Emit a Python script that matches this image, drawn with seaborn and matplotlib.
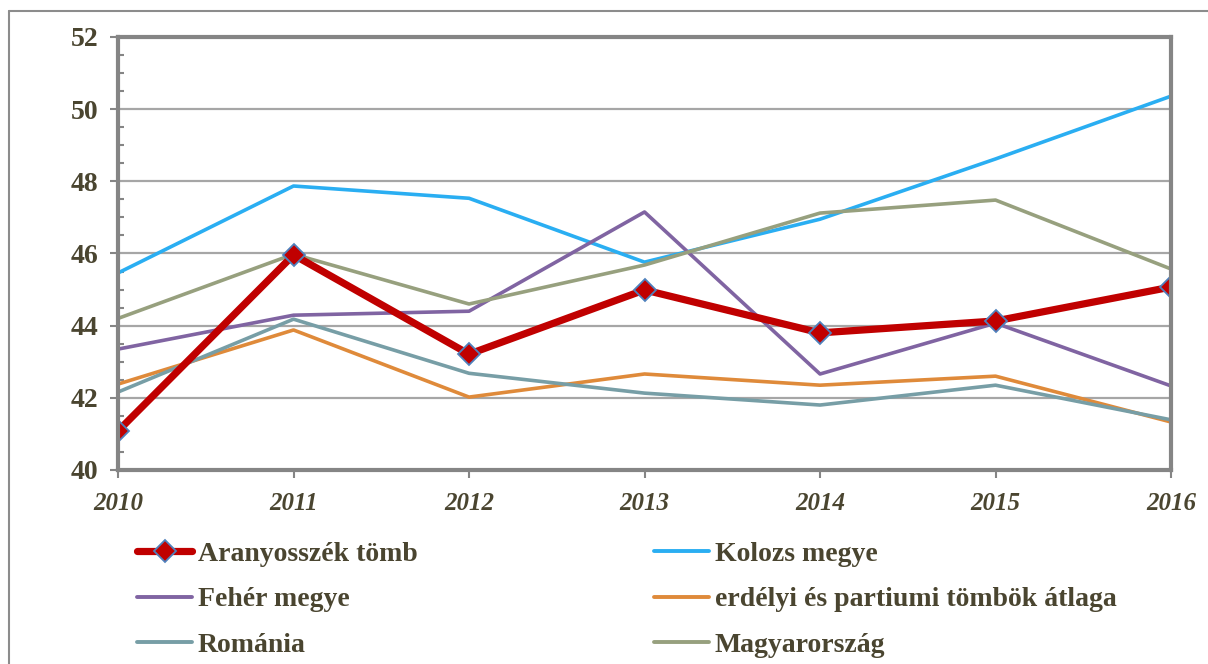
import matplotlib
matplotlib.use("Agg")
import matplotlib.pyplot as plt
import seaborn as sns
import pandas as pd
from matplotlib.ticker import MultipleLocator
from matplotlib.lines import Line2D

years = [2010, 2011, 2012, 2013, 2014, 2015, 2016]
aranyosszek = [41.08, 45.96, 43.21, 44.99, 43.80, 44.13, 45.07]
kolozs = [45.46, 47.87, 47.53, 45.76, 46.95, 48.62, 50.36]
feher = [43.35, 44.29, 44.40, 47.15, 42.66, 44.07, 42.33]
erdelyi = [42.38, 43.88, 42.02, 42.66, 42.35, 42.60, 41.33]
romania = [42.16, 44.18, 42.68, 42.13, 41.80, 42.35, 41.39]
magyar = [44.20, 45.98, 44.60, 45.68, 47.12, 47.48, 45.57]

series = {
    "Aranyosszék tömb": aranyosszek,
    "Kolozs megye": kolozs,
    "Fehér megye": feher,
    "erdélyi és partiumi tömbök átlaga": erdelyi,
    "Románia": romania,
    "Magyarország": magyar,
}
colors = {
    "Aranyosszék tömb": "#C00000",
    "Kolozs megye": "#2AAEF2",
    "Fehér megye": "#8064A2",
    "erdélyi és partiumi tömbök átlaga": "#DF8A3A",
    "Románia": "#779EA6",
    "Magyarország": "#97A07E",
}

df = pd.DataFrame(series, index=years).reset_index(names="Év")

sns.set_style("white")
plt.rcParams["font.family"] = ["Liberation Serif", "DejaVu Serif"]
txt = "#4A4530"

fig = plt.figure(figsize=(12.08, 6.64), dpi=100)
ax = fig.add_axes([0.0977, 0.2922, 0.9694 - 0.0977, 0.9443 - 0.2922])

# draw the other series first, red one on top
for name in ["Kolozs megye", "Fehér megye", "erdélyi és partiumi tömbök átlaga", "Románia", "Magyarország"]:
    sns.lineplot(data=df, x="Év", y=name, ax=ax, color=colors[name], linewidth=2.6, label=name)
sns.lineplot(data=df, x="Év", y="Aranyosszék tömb", ax=ax, color=colors["Aranyosszék tömb"],
             linewidth=5.2, marker="D", markersize=11, markerfacecolor="#C00000",
             markeredgecolor="#4F81BD", markeredgewidth=1.3, label="Aranyosszék tömb")
ax.get_legend().remove()

ax.set_xlim(2010, 2016)
ax.set_ylim(40, 52)
ax.yaxis.set_major_locator(MultipleLocator(2))
ax.yaxis.set_minor_locator(MultipleLocator(0.5))
ax.set_xticks(years)
ax.set_xlabel("")
ax.set_ylabel("")
ax.grid(axis="y", which="major", color="#A6A6A6", linewidth=1.6)
ax.set_axisbelow(True)
for sp in ax.spines.values():
    sp.set_color("#858585")
    sp.set_linewidth(3)
ax.tick_params(axis="y", which="major", direction="out", length=6, width=1.5, color="#858585",
               labelsize=20, labelcolor=txt, pad=8, left=True)
ax.tick_params(axis="y", which="minor", direction="in", length=4, width=1.5, color="#858585", left=True)
ax.tick_params(axis="x", which="major", direction="out", length=6, width=1.5, color="#858585",
               labelsize=18, labelcolor=txt, pad=10, bottom=True)
for lab in ax.get_yticklabels():
    lab.set_fontweight("bold")
for lab in ax.get_xticklabels():
    lab.set_fontweight("bold")
    lab.set_fontstyle("italic")

# legend, two columns
order = ["Aranyosszék tömb", "Fehér megye", "Románia",
         "Kolozs megye", "erdélyi és partiumi tömbök átlaga", "Magyarország"]
handles = []
for name in order:
    if name == "Aranyosszék tömb":
        h = Line2D([], [], color=colors[name], linewidth=5.2, marker="D", markersize=11,
                   markerfacecolor="#C00000", markeredgecolor="#4F81BD", markeredgewidth=1.3)
    else:
        h = Line2D([], [], color=colors[name], linewidth=2.8)
    handles.append(h)
leg = fig.legend(handles, order, ncol=2, loc="upper left", bbox_to_anchor=(0.0926, 0.222),
                 frameon=False, handlelength=2.0, handletextpad=0.2, columnspacing=8.5,
                 labelspacing=0.72, prop={"family": "Liberation Serif", "weight": "bold", "size": 20})
for t in leg.get_texts():
    t.set_color(txt)

# outer chart border
fig.add_artist(Line2D([9 / 1208, 1.0], [1 - 11 / 664, 1 - 11 / 664], color="#8C8C8C", linewidth=1.5))
fig.add_artist(Line2D([9 / 1208, 9 / 1208], [1 - 11 / 664, 0.0], color="#8C8C8C", linewidth=1.5))

fig.savefig("out.png", dpi=100)
